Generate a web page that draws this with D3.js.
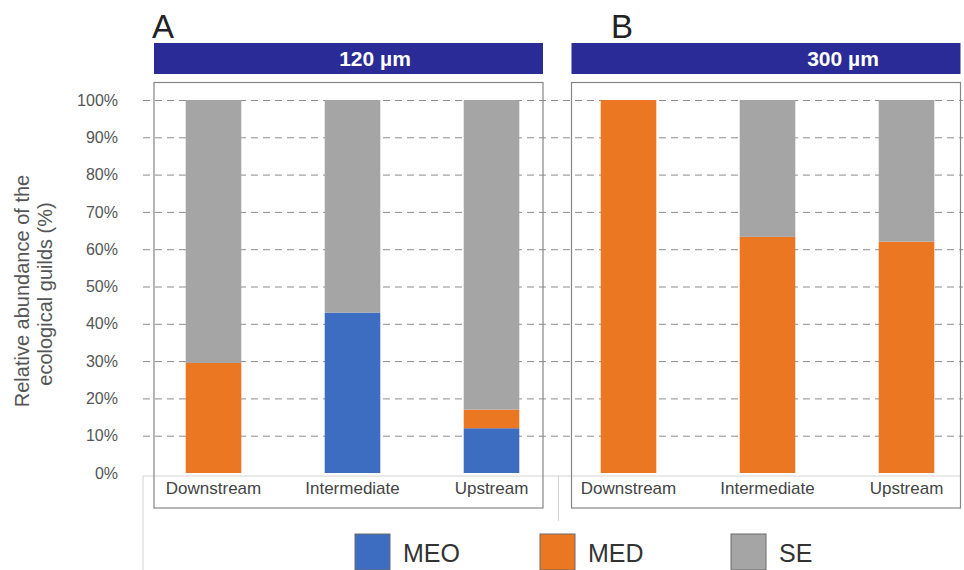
<!DOCTYPE html>
<html><head><meta charset="utf-8">
<script src="https://cdn.jsdelivr.net/npm/d3@7"></script>
<style>body{margin:0;background:#fff}svg{display:block}text{font-family:"Liberation Sans",Arial,sans-serif}</style>
</head><body><svg id="c" width="964" height="570"></svg>
<script>
const categories = ["Downstream", "Intermediate", "Upstream"];
const panelLetters = ["A", "B"];
const panelTitles = ["120 µm", "300 µm"];
const guilds = ["MEO", "MED", "SE"];
const MEO_120 = [0, 43, 12];
const MED_120 = [29.5, 0, 5];
const SE_120 = [70.5, 57, 83];
const MEO_300 = [0, 0, 0];
const MED_300 = [100, 63.3, 62];
const SE_300 = [0, 36.7, 38];
const yTicks = [0, 10, 20, 30, 40, 50, 60, 70, 80, 90, 100];
const colors = ["#3d6dc0", "#ec7722", "#a5a5a5"];

const svg = d3.select("#c");
const y = d3.scaleLinear().domain([0, 100]).range([473, 100]);
const color = d3.scaleOrdinal().domain(guilds).range(colors);

// faint axis lines
svg.append("line").attr("x1", 143).attr("x2", 960).attr("y1", 476).attr("y2", 476).attr("stroke", "#d4d4d4");
svg.append("line").attr("x1", 143).attr("x2", 143).attr("y1", 476).attr("y2", 570).attr("stroke", "#d4d4d4");
svg.append("line").attr("x1", 558.5).attr("x2", 558.5).attr("y1", 476).attr("y2", 521).attr("stroke", "#d4d4d4");

// gridlines
const yAxis = d3.axisLeft(y).tickValues(yTicks.filter(d => d > 0)).tickSize(-(963 - 143)).tickFormat("");
const gGrid = svg.append("g").attr("transform", "translate(143,0)").call(yAxis);
gGrid.select(".domain").remove();
gGrid.selectAll("line").attr("stroke", "#8c8c8c").attr("stroke-dasharray", "7,5").attr("stroke-width", 1);

// tick labels
const yLab = d3.axisLeft(y).tickValues(yTicks).tickSize(0).tickPadding(0).tickFormat(d => d + "%");
const gLab = svg.append("g").attr("transform", "translate(118,0)").call(yLab);
gLab.select(".domain").remove();
gLab.selectAll("text").attr("font-size", 16).attr("fill", "#555").attr("font-family", "Liberation Sans, Arial, sans-serif");

// y title
const yt = svg.append("text").attr("transform", "translate(29,291) rotate(-90)").attr("text-anchor", "middle")
  .attr("font-size", 20).attr("fill", "#555");
yt.append("tspan").attr("x", 0).attr("dy", 0).text("Relative abundance of the");
yt.append("tspan").attr("x", -3).attr("dy", 23).text("ecological guilds (%)");

const panels = [
  {meo: MEO_120, med: MED_120, se: SE_120, range: [144, 561], box: [154, 543], titleX: 375, letterX: 152},
  {meo: MEO_300, med: MED_300, se: SE_300, range: [559, 976], box: [571.5, 960.5], titleX: 843, letterX: 611}
];

panels.forEach((p, i) => {
  const rows = categories.map((c, j) => ({cat: c, MEO: p.meo[j], MED: p.med[j], SE: p.se[j]}));
  const x = d3.scaleBand().domain(categories).range(p.range).paddingInner(0.6).paddingOuter(0.3);
  const stack = d3.stack().keys(guilds)(rows);
  const g = svg.append("g");
  g.selectAll("g").data(stack).join("g").attr("fill", d => color(d.key))
    .selectAll("rect").data(d => d).join("rect")
    .attr("x", d => x(d.data.cat)).attr("width", x.bandwidth())
    .attr("y", d => y(d[1])).attr("height", d => y(d[0]) - y(d[1]));
  // x labels
  const xa = d3.axisBottom(x).tickSize(0).tickPadding(0);
  const gx = svg.append("g").attr("transform", "translate(0,482)").call(xa);
  gx.select(".domain").remove();
  gx.selectAll("text").attr("font-size", 17).attr("fill", "#444").attr("dy", "0.71em").attr("font-family", "Liberation Sans, Arial, sans-serif");
  // box
  svg.append("rect").attr("x", p.box[0]).attr("y", 82.5).attr("width", p.box[1] - p.box[0]).attr("height", 425.5)
    .attr("fill", "none").attr("stroke", "#858585").attr("stroke-width", 1.2);
  // banner
  svg.append("rect").attr("x", p.box[0]).attr("y", 43).attr("width", p.box[1] - p.box[0]).attr("height", 31).attr("fill", "#2a2b96");
  svg.append("text").attr("x", p.titleX).attr("y", 66).attr("text-anchor", "middle").attr("font-size", 21)
    .attr("font-weight", "bold").attr("fill", "#fff").text(panelTitles[i]);
  svg.append("text").attr("x", p.letterX).attr("y", 38).attr("font-size", 33).attr("fill", "#222").text(panelLetters[i]);
});

// legend
const legX = [355, 540, 731];
const lg = svg.append("g").selectAll("g").data(guilds).join("g").attr("transform", (d, i) => `translate(${legX[i]},534)`);
lg.append("rect").attr("width", 35).attr("height", 36).attr("fill", d => color(d)).attr("stroke", "#6a6a6a").attr("stroke-width", 1);
lg.append("text").attr("x", 48).attr("y", 28).attr("font-size", 25).attr("fill", "#333").text(d => d);
</script></body></html>
